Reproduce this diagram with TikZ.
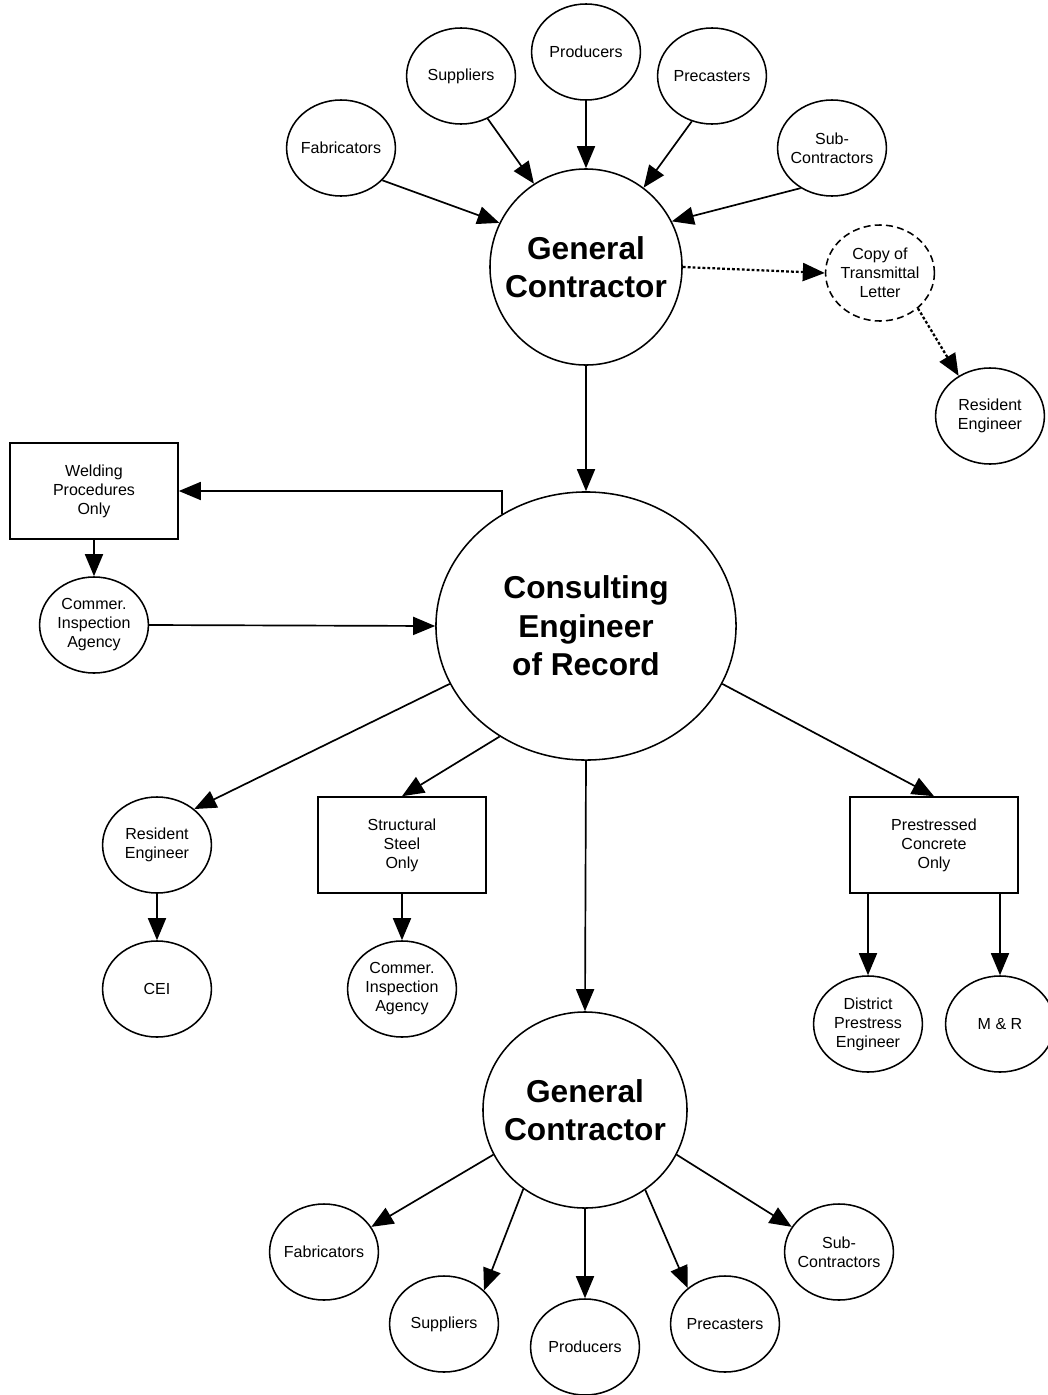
\documentclass[tikz,border=0pt]{standalone}
\usepackage{fontspec}
\setmainfont{Liberation Sans}
\usetikzlibrary{shapes.geometric,arrows.meta}

\begin{document}
\begin{tikzpicture}[
  x=0.025cm, y=-0.025cm,
  every node/.style={inner sep=0pt, align=center, font=\fontsize{11.4}{13.5}\selectfont},
  bubble/.style={ellipse, draw, line width=1.1pt, inner xsep=-0.2cm, inner ysep=-0.1cm,
    minimum width=2.72cm, minimum height=2.4cm},
  hub/.style={ellipse, draw, line width=1.1pt, inner xsep=-0.45cm, inner ysep=-0.2cm,
    font=\fontsize{22.5}{27.3}\selectfont\bfseries},
  box/.style={rectangle, draw, line width=1.1pt, minimum width=4.2cm, minimum height=2.4cm},
  edge/.style={draw, line width=1.2pt, -{Triangle[length=0.55cm, width=0.45cm]}},
  dotedge/.style={edge, line width=1.6pt, dash pattern=on 2pt off 1.5pt}]

  \useasboundingbox (0,0) rectangle (1047,1395);

  % ---- vertices -----------------------------------------------------------
  % upper general contractor and the ones who send to it
  \node[bubble] (F1)  at (341,148)  {Fabricators};
  \node[bubble] (S1)  at (461,76)   {Suppliers};
  \node[bubble] (P1)  at (586,52)   {Producers};
  \node[bubble] (PC1) at (712,76)   {Precasters};
  \node[bubble] (SC1) at (832,148)  {Sub-\\Contractors};
  \node[hub, minimum width=4.8cm, minimum height=4.9cm] (GC1) at (586,267) {General\\Contractor};
  \node[bubble, dashed, dash pattern=on 5pt off 3pt] (CT) at (880,273) {Copy of\\Transmittal\\Letter};
  \node[bubble] (RE1) at (990,416)  {Resident\\Engineer};

  % consulting engineer and the left branch
  \node[hub, minimum width=7.5cm, minimum height=6.7cm] (CER) at (586,626) {Consulting\\Engineer\\of Record};
  \node[box]    (WP)  at (94,491)   {Welding\\Procedures\\Only};
  \node[bubble] (CI1) at (94,625)   {Commer.\\Inspection\\Agency};

  % lower row under the consulting engineer
  \node[bubble] (RE2) at (157,845)  {Resident\\Engineer};
  \node[bubble] (CEI) at (157,989)  {CEI};
  \node[box]    (SS)  at (402,845)  {Structural\\Steel\\Only};
  \node[bubble] (CI2) at (402,989)  {Commer.\\Inspection\\Agency};
  \node[box]    (PS)  at (934,845)  {Prestressed\\Concrete\\Only};
  \node[bubble] (DPE) at (868,1024) {District\\Prestress\\Engineer};
  \node[bubble] (MR)  at (1000,1024) {M \& R};

  % lower general contractor and the ones it sends to
  \node[hub, minimum width=5.1cm, minimum height=4.9cm] (GC2) at (585,1110) {General\\Contractor};
  \node[bubble] (F2)  at (324,1252) {Fabricators};
  \node[bubble] (S2)  at (444,1324) {Suppliers};
  \node[bubble] (P2)  at (585,1347) {Producers};
  \node[bubble] (PC2) at (725,1324) {Precasters};
  \node[bubble] (SC2) at (839,1252) {Sub-\\Contractors};

  % ---- edges --------------------------------------------------------------
  % into the upper general contractor
  \draw[edge] (F1.-38)   -- (GC1.153);
  \draw[edge] (S1.-58)   -- (GC1.122);
  \draw[edge] (P1.south) -- (GC1.north);
  \draw[edge] (PC1.-114) -- (GC1.54);
  \draw[edge] (SC1.-128) -- (GC1.28);
  % copy of the letter
  \draw[dotedge] (GC1.east) -- (CT.west);
  \draw[dotedge] (CT.-43)   -- (RE1.128);

  % down to the consulting engineer
  \draw[edge] (GC1.south) -- (CER.north);
  \draw[edge] (CER.127) |- (WP.east);
  \draw[edge] (WP.south) -- (CI1.north);
  \draw[edge] (CI1.east) -- (CER.west);

  % out of the consulting engineer
  \draw[edge] (CER.203)   -- (RE2.44);
  \draw[edge] (CER.232)   -- (SS.north);
  \draw[edge] (CER.south) -- (GC2.north);
  \draw[edge] (CER.-23)   -- (PS.north);
  \draw[edge] (RE2.south) -- (CEI.north);
  \draw[edge] (SS.south)  -- (CI2.north);
  \draw[edge] (PS.south -| DPE.north) -- (DPE.north);
  \draw[edge] (PS.south -| MR.north)  -- (MR.north);

  % out of the lower general contractor
  \draw[edge] (GC2.206)   -- (F2.28);
  \draw[edge] (GC2.232)   -- (S2.40);
  \draw[edge] (GC2.south) -- (P2.north);
  \draw[edge] (GC2.-53)   -- (PC2.136);
  \draw[edge] (GC2.-26)   -- (SC2.152);
\end{tikzpicture}
\end{document}
